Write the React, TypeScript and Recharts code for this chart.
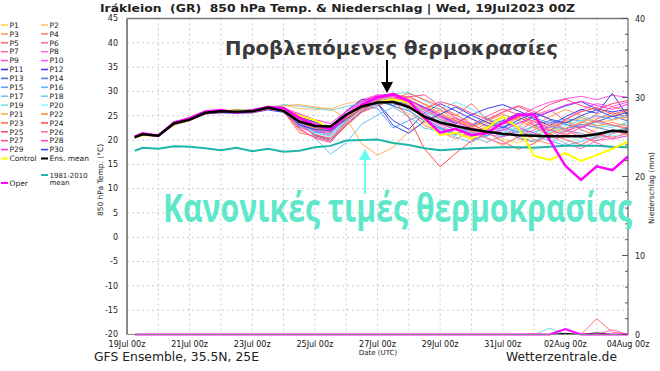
import React from 'react'
import { CartesianGrid, Line, LineChart, ReferenceLine, XAxis, YAxis } from 'recharts'

// forecast steps in days after 19Jul 00z
const steps = [0.25, 0.5, 1, 1.5, 2, 2.5, 3, 3.5, 4, 4.5, 5, 5.5, 6, 6.5, 7, 7.5, 8, 8.5, 9, 9.5, 10, 10.5, 11, 11.5, 12, 12.5, 13, 13.5, 14, 14.5, 15, 15.5, 16]
const dayTicks = [0, 1, 2, 3, 4, 5, 6, 7, 8, 9, 10, 11, 12, 13, 14, 15, 16]
const dateLabels = ['19Jul 00z', '21Jul 00z', '23Jul 00z', '25Jul 00z', '27Jul 00z', '29Jul 00z', '31Jul 00z', '02Aug 00z', '04Aug 00z']
const tempTicks = [-20, -15, -10, -5, 0, 5, 10, 15, 20, 25, 30, 35, 40, 45]
const precipTicks = [0, 2, 4, 6, 8, 10, 12, 14, 16, 18, 20, 22, 24, 26, 28, 30, 32, 34, 36, 38, 40]

const ensMean = [20.6, 21.2, 20.9, 23.4, 24.2, 25.6, 25.9, 25.8, 25.9, 26.7, 26.0,
  23.8, 22.9, 22.8, 25.2, 26.9, 27.7, 27.8, 26.8, 24.8, 23.6, 22.9,
  22.2, 21.7, 21.3, 21.0, 20.9, 20.8, 20.8, 20.8, 21.2, 21.9, 21.7]
const oper = [20.7, 21.4, 20.9, 23.6, 24.5, 25.9, 26.2, 25.6, 26.1, 26.8, 26.6,
  24.6, 23.1, 22.3, 25.0, 27.2, 28.8, 29.4, 28.0, 24.5, 21.5, 22.3,
  21.0, 21.5, 23.5, 25.2, 25.3, 20.0, 14.7, 11.8, 14.6, 13.8, 16.6]
const control = [20.6, 21.0, 21.0, 23.3, 24.2, 25.8, 26.1, 26.0, 26.0, 26.8, 26.4,
  25.0, 24.1, 22.4, 24.8, 26.9, 27.8, 28.4, 27.6, 24.2, 21.0, 21.5,
  20.3, 22.5, 24.8, 22.5, 16.8, 15.9, 17.3, 15.7, 16.9, 18.2, 19.7]
const clim = [17.8, 18.4, 18.2, 18.7, 18.6, 18.3, 17.9, 18.4, 17.7, 18.2, 17.6,
  17.8, 18.5, 18.8, 19.9, 20.0, 20.1, 19.4, 19.0, 18.3, 17.9, 18.1,
  18.3, 18.4, 18.5, 18.5, 18.4, 18.6, 18.8, 18.8, 18.8, 18.6, 18.5]

const p1 = [20.8, 21.3, 21.1, 23.0, 24.4, 25.9, 26.3, 25.5, 26.2, 27.0, 26.8, 24.5, 23.5, 21.9, 24.2, 27.3, 28.5, 28.9, 27.6, 26.1, 24.0, 22.1, 21.5, 22.8, 20.2, 19.4, 21.0, 22.6, 21.3, 20.5, 22.4, 23.1, 22.0]
const p2 = [20.5, 21.0, 20.7, 23.7, 24.0, 25.4, 26.0, 26.1, 25.7, 26.3, 27.2, 26.5, 26.3, 26.4, 27.5, 28.1, 28.7, 27.0, 25.4, 23.5, 22.0, 23.8, 24.5, 22.3, 21.0, 22.5, 24.1, 23.0, 21.8, 23.5, 24.6, 25.0, 24.2]
const p3 = [20.4, 21.1, 20.9, 23.2, 24.5, 25.7, 25.6, 25.9, 26.1, 26.4, 25.8, 22.9, 21.2, 20.3, 23.1, 26.0, 27.5, 29.3, 28.4, 25.2, 26.1, 24.3, 22.8, 20.5, 18.9, 20.7, 22.9, 24.8, 26.3, 25.1, 23.7, 24.9, 26.0]
const p4 = [20.7, 21.4, 21.0, 23.5, 24.1, 25.5, 25.8, 26.3, 25.8, 26.7, 26.0, 23.1, 22.4, 21.8, 24.9, 27.0, 28.0, 28.2, 26.3, 23.0, 21.7, 20.2, 21.9, 23.4, 24.8, 22.0, 20.1, 19.2, 21.5, 23.6, 25.3, 26.8, 26.1]
const p5 = [20.6, 21.2, 20.8, 23.4, 24.3, 25.3, 25.7, 25.6, 26.0, 26.5, 25.9, 21.5, 20.8, 20.4, 23.9, 26.5, 27.2, 28.1, 29.0, 27.4, 26.2, 25.0, 27.5, 24.2, 22.5, 20.3, 19.6, 21.4, 23.9, 22.1, 21.0, 20.6, 21.3]
const p6 = [20.5, 21.0, 21.2, 23.6, 24.6, 25.8, 26.2, 25.7, 25.6, 26.9, 26.5, 24.0, 21.9, 21.0, 25.3, 27.8, 29.1, 28.5, 27.0, 25.8, 24.2, 22.9, 20.8, 19.5, 20.9, 22.8, 25.1, 26.2, 24.0, 22.7, 24.3, 25.7, 24.5]
const p7 = [20.8, 21.3, 20.9, 23.1, 24.0, 25.6, 25.9, 25.9, 26.3, 26.6, 26.1, 23.3, 22.0, 21.3, 24.4, 26.9, 28.9, 29.6, 28.0, 26.8, 25.4, 23.5, 22.6, 24.0, 25.8, 27.1, 25.9, 24.3, 22.0, 20.6, 19.8, 21.2, 22.7]
const p8 = [20.6, 21.1, 21.0, 23.5, 24.2, 25.6, 26.0, 25.6, 25.7, 26.3, 26.7, 25.2, 23.6, 22.5, 25.8, 28.3, 29.3, 28.6, 26.6, 24.9, 23.0, 21.4, 20.7, 22.5, 23.9, 25.4, 23.3, 21.0, 19.3, 18.2, 19.9, 20.3, 21.8]
const p9 = [20.7, 21.2, 20.8, 23.8, 24.4, 25.9, 25.7, 25.8, 26.0, 26.8, 26.3, 22.6, 21.5, 21.7, 24.5, 27.5, 28.6, 29.2, 27.9, 25.4, 23.7, 24.6, 23.2, 21.8, 22.6, 24.7, 26.6, 27.8, 28.5, 29.0, 28.3, 29.2, 28.8]
const p10 = [20.5, 21.0, 21.0, 23.3, 24.1, 25.5, 25.8, 26.0, 25.9, 26.5, 26.0, 23.9, 23.2, 23.0, 25.5, 27.9, 28.8, 28.0, 27.3, 26.0, 24.8, 23.1, 22.0, 21.2, 20.6, 21.9, 23.8, 22.5, 24.2, 26.1, 27.5, 26.9, 27.8]
const p11 = [20.6, 21.3, 20.9, 23.4, 24.3, 25.7, 26.1, 25.7, 26.0, 26.7, 26.4, 24.8, 23.7, 22.4, 24.1, 26.8, 27.6, 24.0, 22.2, 25.6, 27.5, 26.0, 24.4, 22.9, 24.0, 25.5, 24.3, 23.0, 24.8, 26.3, 25.5, 29.6, 24.8]
const p12 = [20.4, 21.0, 20.8, 23.2, 24.0, 25.4, 25.6, 25.5, 25.6, 26.2, 25.7, 22.8, 22.1, 22.6, 26.0, 28.4, 28.2, 27.1, 28.3, 26.7, 25.0, 23.4, 25.2, 26.5, 27.3, 26.0, 24.6, 25.8, 27.0, 27.9, 26.4, 25.8, 26.3]
const p13 = [20.7, 21.2, 21.1, 23.6, 24.5, 25.8, 25.9, 26.2, 26.1, 26.5, 26.1, 23.5, 21.0, 19.9, 23.2, 25.9, 27.4, 28.0, 27.5, 24.5, 22.6, 21.2, 23.0, 24.3, 22.8, 21.5, 22.9, 24.0, 23.2, 22.5, 23.8, 24.9, 23.9]
const p14 = [20.6, 21.1, 21.0, 23.3, 24.2, 25.5, 25.7, 25.8, 25.8, 26.4, 26.0, 24.2, 22.9, 22.7, 25.2, 27.2, 28.0, 27.0, 26.0, 24.0, 22.3, 21.0, 22.4, 21.9, 20.8, 22.0, 21.6, 22.8, 22.3, 23.2, 22.6, 21.8, 22.5]
const p15 = [20.5, 21.2, 20.8, 23.5, 24.1, 25.6, 26.0, 25.9, 25.9, 26.6, 26.3, 23.4, 21.8, 21.4, 24.7, 27.0, 26.5, 22.5, 24.0, 25.5, 23.4, 22.2, 21.5, 20.9, 22.7, 23.6, 24.6, 23.5, 24.4, 23.9, 25.0, 24.2, 25.2]
const p16 = [20.7, 21.3, 20.9, 23.4, 24.3, 25.7, 26.1, 25.6, 26.0, 26.7, 26.2, 22.9, 21.6, 20.8, 24.0, 26.3, 27.4, 28.6, 26.2, 23.8, 22.4, 21.3, 20.2, 20.8, 22.3, 21.6, 20.9, 19.8, 18.9, 19.7, 20.8, 22.1, 21.4]
const p17 = [20.6, 21.0, 21.1, 23.6, 24.2, 25.6, 25.8, 25.7, 25.7, 26.5, 26.1, 24.6, 20.5, 17.1, 19.4, 23.3, 25.1, 26.8, 24.8, 22.4, 21.9, 20.6, 19.5, 21.3, 22.0, 20.5, 19.8, 21.0, 22.0, 21.4, 20.3, 21.5, 22.4]
const p18 = [20.5, 21.1, 20.9, 23.4, 24.1, 25.5, 25.9, 25.8, 26.0, 26.6, 27.3, 27.0, 26.6, 26.1, 26.9, 27.6, 28.3, 28.8, 27.4, 26.0, 24.3, 22.8, 21.3, 22.5, 23.8, 22.2, 21.1, 21.9, 23.4, 24.7, 23.6, 22.9, 23.3]
const p19 = [20.6, 21.2, 21.0, 23.5, 24.4, 25.8, 26.2, 25.8, 26.1, 26.7, 26.3, 23.7, 22.5, 21.2, 24.0, 26.6, 28.0, 29.5, 29.8, 28.1, 26.3, 27.8, 26.4, 24.6, 23.1, 21.8, 22.7, 21.5, 22.9, 24.1, 23.0, 22.6, 23.7]
const p20 = [20.7, 21.3, 20.8, 23.3, 24.2, 25.6, 25.8, 25.9, 25.8, 26.4, 26.0, 23.0, 21.4, 20.6, 23.6, 26.2, 27.3, 28.2, 27.8, 25.9, 24.0, 22.5, 20.8, 19.6, 21.2, 22.9, 21.7, 20.4, 19.5, 20.3, 21.6, 21.0, 20.6]
const p21 = [20.5, 21.0, 20.9, 23.5, 24.3, 25.7, 26.0, 25.7, 26.2, 26.5, 27.0, 27.3, 26.8, 26.4, 24.5, 19.2, 16.9, 18.5, 21.8, 23.7, 25.1, 24.0, 22.6, 21.7, 23.2, 24.5, 23.9, 22.8, 23.8, 24.4, 23.6, 24.1, 24.9]
const p22 = [20.6, 21.1, 21.0, 23.3, 24.1, 25.6, 25.9, 26.0, 25.9, 26.6, 26.2, 23.8, 22.3, 21.9, 24.8, 27.4, 28.7, 29.4, 28.8, 27.3, 25.5, 24.0, 22.7, 23.9, 25.3, 24.1, 22.6, 21.3, 22.4, 23.7, 22.9, 23.6, 22.8]
const p23 = [20.7, 21.2, 20.8, 23.6, 24.4, 25.8, 26.1, 25.6, 25.8, 26.5, 25.9, 22.1, 20.6, 19.8, 22.9, 25.7, 27.0, 28.4, 29.6, 28.3, 26.9, 25.2, 23.4, 21.6, 19.7, 18.1, 19.3, 21.2, 20.1, 19.0, 20.6, 22.0, 21.2]
const p24 = [20.5, 21.0, 20.9, 23.4, 24.2, 25.7, 25.9, 25.8, 26.0, 26.7, 26.3, 24.1, 22.6, 22.0, 24.3, 26.4, 27.9, 28.3, 24.6, 18.2, 14.5, 17.3, 19.8, 21.5, 23.4, 24.8, 23.0, 21.9, 24.2, 25.8, 26.7, 25.3, 26.2]
const p25 = [20.6, 21.3, 21.0, 23.2, 24.0, 25.5, 25.7, 25.9, 25.7, 26.3, 26.0, 23.2, 21.1, 20.2, 23.7, 26.8, 28.1, 29.7, 28.3, 26.4, 27.9, 27.0, 25.5, 24.3, 25.7, 26.9, 25.4, 27.3, 28.4, 27.1, 26.2, 27.5, 28.1]
const p26 = [20.7, 21.2, 20.9, 23.5, 24.3, 25.6, 26.0, 25.8, 26.1, 26.8, 26.4, 24.3, 23.0, 22.1, 24.6, 27.1, 28.4, 28.9, 27.7, 26.2, 24.6, 23.0, 21.8, 20.3, 19.2, 20.6, 22.1, 23.5, 22.3, 21.0, 19.4, 18.3, 19.6]
const p27 = [20.5, 21.1, 21.0, 23.4, 24.2, 25.7, 25.8, 25.7, 25.9, 26.4, 26.1, 22.4, 20.4, 19.5, 23.3, 26.0, 27.8, 28.5, 28.9, 29.3, 27.0, 24.5, 23.1, 24.9, 26.4, 25.2, 23.8, 22.1, 21.0, 22.6, 24.0, 23.1, 22.4]
const p28 = [20.6, 21.2, 20.8, 23.3, 24.1, 25.6, 25.9, 26.0, 25.8, 26.6, 26.2, 23.6, 22.0, 21.5, 24.8, 27.6, 28.9, 29.0, 27.5, 25.1, 23.3, 22.1, 21.0, 22.2, 23.7, 22.6, 21.4, 20.5, 21.8, 22.9, 21.5, 20.2, 20.9]
const p29 = [20.7, 21.3, 21.0, 23.6, 24.4, 25.8, 26.2, 25.9, 26.2, 26.9, 26.5, 25.4, 24.2, 23.4, 25.9, 28.0, 29.2, 29.5, 28.2, 26.5, 25.0, 23.8, 22.4, 21.3, 22.0, 23.4, 24.7, 25.9, 27.2, 28.0, 27.1, 26.3, 27.4]
const p30 = [20.6, 21.1, 20.9, 23.4, 24.3, 25.6, 25.9, 25.6, 25.9, 26.5, 26.0, 23.1, 22.2, 21.9, 24.4, 27.0, 27.5, 23.0, 21.4, 23.9, 25.3, 26.8, 25.1, 23.6, 22.5, 24.1, 25.6, 24.3, 23.5, 25.0, 26.2, 24.8, 25.7]

// precipitation (mm), right axis
const rainOper = [0, 0, 0, 0, 0, 0, 0, 0, 0, 0, 0, 0, 0, 0, 0, 0, 0, 0, 0, 0, 0, 0, 0, 0, 0, 0, 0, 0, 0.7, 0, 0, 0, 0]
const rainMean = [0, 0, 0, 0, 0, 0, 0, 0, 0, 0, 0, 0, 0, 0, 0, 0, 0, 0, 0, 0, 0, 0, 0, 0, 0, 0, 0, 0, 0.15, 0, 0.2, 0, 0]
const rainP19 = [0, 0, 0, 0, 0, 0, 0, 0, 0, 0, 0, 0, 0, 0, 0, 0, 0, 0, 0, 0, 0, 0, 0, 0, 0, 0, 0, 0.8, 0, 0, 0, 0, 0]
const rainP5 = [0, 0, 0, 0, 0, 0, 0, 0, 0, 0, 0, 0, 0, 0, 0, 0, 0, 0, 0, 0, 0, 0, 0, 0, 0, 0, 0, 0, 0, 0, 2.0, 0.3, 0]
const rainP7 = [0, 0, 0, 0, 0, 0, 0, 0, 0, 0, 0, 0, 0, 0, 0, 0, 0, 0, 0, 0, 0, 0, 0, 0, 0, 0, 0, 0, 0, 0, 0, 0.6, 0]
const rainP22 = [0, 0, 0, 0, 0, 0, 0, 0, 0, 0, 0, 0, 0, 0, 0, 0, 0, 0, 0, 0, 0, 0, 0, 0, 0, 0, 0.1, 0, 0, 0, 0, 0, 0]

const members = [
  { key: 'p1', name: 'P1', color: '#ffd54a', values: p1 },
  { key: 'p2', name: 'P2', color: '#ffc070', values: p2 },
  { key: 'p3', name: 'P3', color: '#ff9a5a', values: p3 },
  { key: 'p4', name: 'P4', color: '#ff8a66', values: p4 },
  { key: 'p5', name: 'P5', color: '#ff7070', values: p5 },
  { key: 'p6', name: 'P6', color: '#ff6f8f', values: p6 },
  { key: 'p7', name: 'P7', color: '#ff6fa8', values: p7 },
  { key: 'p8', name: 'P8', color: '#ff6fc4', values: p8 },
  { key: 'p9', name: 'P9', color: '#ff55dd', values: p9 },
  { key: 'p10', name: 'P10', color: '#ff55ff', values: p10 },
  { key: 'p11', name: 'P11', color: '#3b3bdd', values: p11 },
  { key: 'p12', name: 'P12', color: '#4040f0', values: p12 },
  { key: 'p13', name: 'P13', color: '#4a6be8', values: p13 },
  { key: 'p14', name: 'P14', color: '#4f86f0', values: p14 },
  { key: 'p15', name: 'P15', color: '#5ea0ff', values: p15 },
  { key: 'p16', name: 'P16', color: '#66b5ff', values: p16 },
  { key: 'p17', name: 'P17', color: '#70c3f5', values: p17 },
  { key: 'p18', name: 'P18', color: '#6fcfea', values: p18 },
  { key: 'p19', name: 'P19', color: '#70e3e8', values: p19 },
  { key: 'p20', name: 'P20', color: '#90f5f5', values: p20 },
  { key: 'p21', name: 'P21', color: '#ffb050', values: p21 },
  { key: 'p22', name: 'P22', color: '#ff8c40', values: p22 },
  { key: 'p23', name: 'P23', color: '#ff6a50', values: p23 },
  { key: 'p24', name: 'P24', color: '#ff5050', values: p24 },
  { key: 'p25', name: 'P25', color: '#ff4a7a', values: p25 },
  { key: 'p26', name: 'P26', color: '#ff6fa0', values: p26 },
  { key: 'p27', name: 'P27', color: '#ff4f9a', values: p27 },
  { key: 'p28', name: 'P28', color: '#ff4fc8', values: p28 },
  { key: 'p29', name: 'P29', color: '#ff33ee', values: p29 },
  { key: 'p30', name: 'P30', color: '#3848e8', values: p30 }
]

const rainSeries = [
  { key: 'r22', color: '#ff8c40', values: rainP22 },
  { key: 'r19', color: '#70e3e8', values: rainP19 },
  { key: 'r5', color: '#ff7070', values: rainP5 },
  { key: 'r7', color: '#ff6fa8', values: rainP7 },
  { key: 'rmean', color: '#000000', values: rainMean },
  { key: 'roper', color: '#ff00ff', values: rainOper }
]

const data = steps.map((t, i) => {
  const row: Record<string, number> = {
    t,
    mean: ensMean[i],
    oper: oper[i],
    control: control[i],
    clim: clim[i]
  }
  members.forEach((m) => {
    row[m.key] = m.values[i]
  })
  rainSeries.forEach((r) => {
    row[r.key] = r.values[i]
  })
  return row
})

const FONT = 'DejaVu Sans'

function RainTick(props: any) {
  const { x, y, payload } = props
  const major = payload.value % 10 === 0
  return (
    <g>
      <line x1={x - 7} x2={x - 7 - (major ? 6 : 3)} y1={y} y2={y} stroke="#555" />
      {major ? (
        <text x={x} y={y + 3} fontSize={8} fill="#222" fontFamily={FONT}>
          {payload.value}
        </text>
      ) : null}
    </g>
  )
}

function Legend() {
  const rowY = (i: number) => 25 + i * 8.9
  const item = (x: number, y: number, color: string, label: string, w = 1.6) => (
    <g key={label + x}>
      <line x1={x} x2={x + 7} y1={y} y2={y} stroke={color} strokeWidth={w} />
      <text x={x + 8.5} y={y + 2.7} fontSize={7.5} fill="#222" fontFamily={FONT}>
        {label}
      </text>
    </g>
  )
  return (
    <g>
      {members.map((m, i) =>
        item(i % 2 === 0 ? 1 : 41, rowY(Math.floor(i / 2)), m.color, m.name)
      )}
      {item(1, rowY(15), '#ffff00', 'Control', 2)}
      {item(41, rowY(15), '#000000', 'Ens. mean', 2)}
      {item(1, 183, '#ff00ff', 'Oper', 2)}
      <line x1={41} x2={48} y1={175} y2={175} stroke="#1fb5a8" strokeWidth={2} />
      <text x={49.5} y={177.5} fontSize={7} fill="#222" fontFamily={FONT}>1981-2010</text>
      <text x={49.5} y={184.5} fontSize={7} fill="#222" fontFamily={FONT}>mean</text>
    </g>
  )
}

export default function App() {
  return (
    <div style={{ position: 'absolute', left: 0, top: 0, width: 660, height: 371, background: '#fff' }}>
      <LineChart
        width={660}
        height={371}
        data={data}
        margin={{ top: 18.5, right: 0, bottom: 16.5, left: 97 }}
      >
        <CartesianGrid yAxisId="temp" stroke="#c8c8dc" strokeDasharray="2 3" />
        <XAxis
          dataKey="t"
          type="number"
          domain={[0, 16]}
          ticks={dayTicks}
          interval={0}
          height={20}
          tickSize={0}
          tickMargin={7}
          tickFormatter={(v: number) => (v % 2 === 0 ? dateLabels[v / 2] : '')}
          tick={{ fontSize: 8, fill: '#111', fontFamily: FONT }}
          axisLine={{ stroke: '#888' }}
        />
        <YAxis
          yAxisId="temp"
          orientation="left"
          width={30}
          domain={[-20, 45]}
          ticks={tempTicks}
          interval={0}
          tickSize={0}
          tickMargin={9}
          tick={{ fontSize: 8, fill: '#222', fontFamily: FONT }}
          axisLine={{ stroke: '#888', strokeWidth: 2 }}
        />
        <YAxis
          yAxisId="rain"
          orientation="right"
          width={32}
          domain={[0, 40]}
          ticks={precipTicks}
          interval={0}
          tickSize={0}
          tickMargin={7}
          tickLine={false}
          tick={<RainTick />}
          axisLine={{ stroke: '#555' }}
        />
        <ReferenceLine yAxisId="temp" y={45} stroke="#777" strokeWidth={1.5} />
        {members.map((m) => (
          <Line
            key={m.key}
            yAxisId="temp"
            type="linear"
            dataKey={m.key}
            stroke={m.color}
            strokeWidth={1}
            dot={false}
            isAnimationActive={false}
          />
        ))}
        <Line yAxisId="temp" type="linear" dataKey="clim" stroke="#1fb5a8" strokeWidth={2} dot={false} isAnimationActive={false} />
        <Line yAxisId="temp" type="linear" dataKey="control" stroke="#ffff00" strokeWidth={2} dot={false} isAnimationActive={false} />
        <Line yAxisId="temp" type="linear" dataKey="oper" stroke="#ff00ff" strokeWidth={2.5} dot={false} isAnimationActive={false} />
        <Line yAxisId="temp" type="linear" dataKey="mean" stroke="#000000" strokeWidth={2.5} dot={false} isAnimationActive={false} />
        {rainSeries.map((r) => (
          <Line
            key={r.key}
            yAxisId="rain"
            type="linear"
            dataKey={r.key}
            stroke={r.color}
            strokeWidth={r.key === 'roper' ? 2 : 1}
            dot={false}
            isAnimationActive={false}
          />
        ))}
      </LineChart>
      <svg
        width={660}
        height={371}
        style={{ position: 'absolute', left: 0, top: 0, pointerEvents: 'none' }}
      >
        <text x={100} y={12} fontSize={10.5} fontWeight="bold" fill="#222" fontFamily={FONT} textLength={475} lengthAdjust="spacingAndGlyphs">
          {'Irákleion\u00a0\u00a0(GR)\u00a0\u00a0850 hPa Temp. & Niederschlag | Wed, 19Jul2023 00Z'}
        </text>
        <Legend />
        <text transform="translate(103,180) rotate(-90)" textAnchor="middle" fontSize={7.5} fill="#222" fontFamily={FONT}>
          850 hPa Temp. (°C)
        </text>
        <text transform="translate(654,188) rotate(-90)" textAnchor="middle" fontSize={7.5} fill="#222" fontFamily={FONT}>
          Niederschlag (mm)
        </text>
        <text x={378} y={355} textAnchor="middle" fontSize={7} fill="#222" fontFamily={FONT}>
          Date (UTC)
        </text>
        <text x={94} y={361} fontSize={11.5} fill="#222" fontFamily={FONT} textLength={165} lengthAdjust="spacingAndGlyphs">
          GFS Ensemble, 35.5N, 25E
        </text>
        <text x={506} y={361} fontSize={11.5} fill="#222" fontFamily={FONT} textLength={111} lengthAdjust="spacingAndGlyphs">
          Wetterzentrale.de
        </text>
        <text x={225} y={55} fontSize={20} fontWeight="bold" fill="#3a3a3a" fontFamily={FONT} textLength={333} lengthAdjust="spacingAndGlyphs">
          Προβλεπόμενες θερμοκρασίες
        </text>
        <line x1={387} x2={387} y1={60} y2={85} stroke="#000" strokeWidth={2} />
        <polygon points="381,82 393,82 387,93" fill="#000" />
        <text x={163} y={222} fontSize={40} fontWeight="bold" fill="#5ee8c9" fontFamily="Open Sans" textLength={469} lengthAdjust="spacingAndGlyphs">
          Κανονικές τιμές θερμοκρασίας
        </text>
        <line x1={365} x2={365} y1={194} y2={158} stroke="#66ffee" strokeWidth={2} />
        <polygon points="359,160 371,160 365,149" fill="#66ffee" />
      </svg>
    </div>
  )
}
